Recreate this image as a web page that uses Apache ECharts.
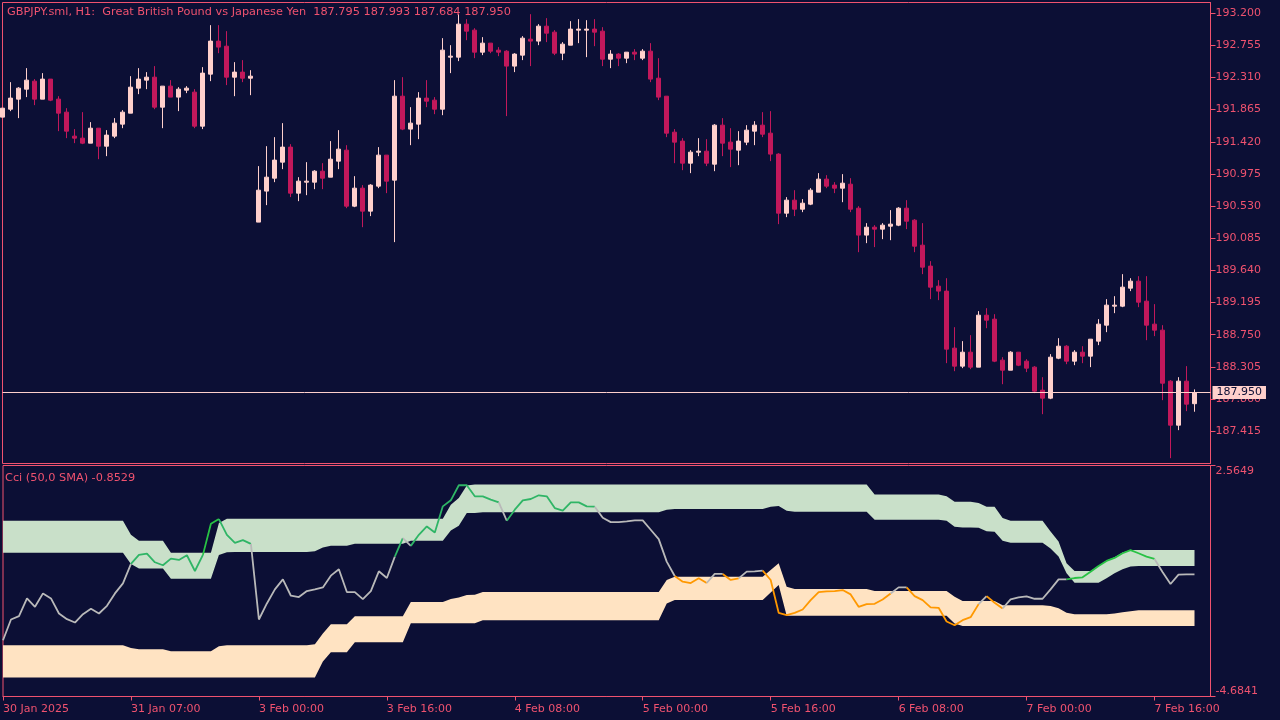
<!DOCTYPE html>
<html>
<head>
<meta charset="utf-8">
<title>GBPJPY H1 Cci</title>
<style>
  html, body { margin: 0; padding: 0; background: #0c0f35; }
  #chart { width: 1280px; height: 720px; }
</style>
<script src="https://cdn.jsdelivr.net/npm/echarts@6/dist/echarts.min.js"></script>
</head>
<body>
<div id="chart"></div>
<script>
const opens = [191.761,191.871,192.010,192.148,192.259,192.010,192.287,192.010,191.830,191.498,191.470,191.401,191.608,191.359,191.498,191.664,191.816,192.162,192.273,192.314,191.899,192.190,192.038,192.134,192.107,191.636,192.356,192.813,192.743,192.314,192.384,192.300,190.308,190.737,190.916,191.138,191.346,190.709,190.861,190.861,191.013,190.930,191.152,191.304,190.529,190.778,190.460,190.806,191.235,190.889,192.051,191.595,191.664,192.024,191.996,191.871,192.591,192.591,193.048,192.965,192.660,192.785,192.688,192.674,192.467,192.619,192.840,192.813,193.020,192.937,192.646,192.757,192.965,192.965,192.979,192.951,192.563,192.633,192.577,192.660,192.577,192.674,192.300,192.051,191.553,191.429,191.124,191.276,191.290,191.110,191.650,191.415,191.304,191.415,191.567,191.650,191.539,191.249,190.432,190.612,190.487,190.557,190.723,190.903,190.820,190.778,190.833,190.501,190.128,190.238,190.211,190.252,190.266,190.501,190.335,189.989,189.699,189.422,189.353,188.564,188.315,188.508,188.301,189.020,188.965,188.398,188.259,188.508,188.384,188.301,187.982,187.872,188.425,188.591,188.384,188.508,188.453,188.661,188.882,189.145,189.145,189.394,189.491,189.214,188.896,188.813,188.107,187.498,188.107,187.795];
const closes = [191.885,192.024,192.162,192.273,192.010,192.287,191.996,191.816,191.567,191.470,191.401,191.608,191.359,191.512,191.678,191.830,192.176,192.287,192.314,191.899,192.190,192.038,192.148,192.162,191.636,192.370,192.813,192.730,192.314,192.384,192.300,192.328,190.750,190.930,191.166,191.346,190.709,190.875,190.875,191.013,190.916,191.179,191.318,190.529,190.778,190.460,190.820,191.235,190.875,192.051,191.595,191.678,192.024,191.982,191.871,192.688,192.605,193.048,192.951,192.660,192.785,192.674,192.660,192.467,192.633,192.854,192.813,193.020,192.923,192.646,192.771,192.979,192.979,192.979,192.937,192.563,192.633,192.577,192.660,192.633,192.674,192.287,192.038,191.539,191.415,191.124,191.276,191.290,191.124,191.650,191.401,191.318,191.429,191.581,191.650,191.525,191.249,190.432,190.612,190.487,190.570,190.750,190.903,190.806,190.778,190.847,190.487,190.128,190.238,190.211,190.266,190.280,190.501,190.321,189.975,189.685,189.408,189.353,188.550,188.315,188.508,188.301,189.020,188.951,188.384,188.259,188.508,188.328,188.287,187.969,187.872,188.439,188.591,188.384,188.508,188.453,188.688,188.896,189.159,189.159,189.408,189.491,189.200,188.882,188.813,188.079,187.498,188.107,187.789,187.950];
const lows = [191.761,191.844,191.747,192.038,191.927,192.010,191.982,191.567,191.470,191.401,191.387,191.401,191.179,191.221,191.470,191.608,191.816,192.079,192.148,191.871,191.608,192.038,191.844,192.093,191.608,191.595,192.259,192.646,192.204,192.051,192.245,192.065,190.308,190.543,190.861,191.041,190.654,190.598,190.681,190.764,190.764,190.930,191.041,190.501,190.515,190.238,190.391,190.778,190.709,190.031,191.581,191.373,191.456,191.899,191.802,191.788,192.370,192.536,192.826,192.577,192.619,192.646,192.605,191.775,192.384,192.550,192.467,192.757,192.799,192.619,192.550,192.757,192.785,192.591,192.743,192.467,192.439,192.467,192.508,192.550,192.550,192.245,191.996,191.484,191.124,191.027,190.986,191.221,191.083,191.013,191.221,191.069,191.096,191.373,191.373,191.484,191.152,190.280,190.377,190.391,190.446,190.543,190.723,190.778,190.709,190.584,190.446,189.892,190.017,189.962,190.072,190.058,190.252,190.211,189.892,189.588,189.242,189.228,188.356,188.245,188.287,188.273,188.301,188.840,188.370,188.065,188.259,188.315,188.232,187.941,187.650,187.858,188.411,188.342,188.328,188.356,188.301,188.605,188.785,189.048,189.131,189.353,189.131,188.674,188.730,187.844,187.041,187.429,187.692,187.684];
const highs = [191.885,192.245,192.176,192.439,192.287,192.370,192.287,192.051,191.885,191.595,191.830,191.692,191.608,191.581,191.747,191.858,192.328,192.439,192.384,192.467,192.190,192.273,192.176,192.190,192.148,192.453,193.034,193.034,192.951,192.522,192.550,192.411,191.083,191.359,191.484,191.678,191.387,190.930,191.138,191.027,191.124,191.429,191.581,191.373,190.944,190.820,190.833,191.346,191.235,192.273,192.314,191.899,192.107,192.273,192.038,192.854,192.757,193.186,193.117,192.992,192.868,192.785,192.730,192.688,192.646,192.882,193.186,193.048,193.131,192.965,192.799,193.089,193.117,193.103,193.117,193.006,192.688,192.646,192.660,192.702,192.702,192.785,192.577,192.051,191.595,191.470,191.304,191.470,191.456,191.664,191.747,191.608,191.567,191.650,191.705,191.830,191.844,191.262,190.654,190.750,190.626,190.778,190.986,190.958,190.861,190.972,190.916,190.529,190.294,190.266,190.294,190.474,190.515,190.612,190.349,190.294,189.768,189.505,189.532,188.854,188.661,188.744,189.076,189.117,189.034,188.439,188.522,188.508,188.411,188.315,188.162,188.481,188.702,188.605,188.536,188.591,188.688,188.965,189.242,189.283,189.588,189.532,189.560,189.560,189.173,188.882,188.121,188.162,188.315,187.993];

const cci = [-2.920,-2.268,-2.163,-1.606,-1.869,-1.449,-1.606,-2.079,-2.258,-2.363,-2.100,-1.932,-2.079,-1.838,-1.449,-1.134,-0.524,-0.240,-0.198,-0.472,-0.566,-0.356,-0.398,-0.251,-0.745,-0.240,0.737,0.884,0.390,0.138,0.222,0.106,-2.268,-1.764,-1.323,-1.008,-1.522,-1.564,-1.375,-1.323,-1.260,-0.892,-0.692,-1.407,-1.407,-1.627,-1.375,-0.755,-0.966,-0.293,0.285,0.043,0.390,0.653,0.463,1.283,1.472,1.945,1.945,1.598,1.598,1.493,1.409,0.831,1.178,1.472,1.514,1.630,1.598,1.230,1.146,1.409,1.409,1.283,1.273,0.926,0.789,0.789,0.810,0.842,0.842,0.548,0.253,-0.451,-0.902,-1.081,-1.123,-0.976,-1.123,-0.839,-0.839,-1.028,-0.976,-0.766,-0.755,-0.734,-1.028,-2.058,-2.132,-2.058,-1.953,-1.659,-1.407,-1.386,-1.375,-1.344,-1.480,-1.869,-1.785,-1.775,-1.638,-1.449,-1.260,-1.260,-1.533,-1.659,-1.890,-1.901,-2.331,-2.447,-2.289,-2.195,-1.785,-1.533,-1.743,-1.922,-1.638,-1.575,-1.543,-1.617,-1.617,-1.323,-1.008,-1.008,-0.966,-0.945,-0.766,-0.587,-0.430,-0.335,-0.188,-0.093,-0.188,-0.293,-0.367,-0.776,-1.155,-0.860,-0.850,-0.853];
const greenTop = [0.831,0.831,0.831,0.831,0.831,0.831,0.831,0.831,0.831,0.831,0.831,0.831,0.831,0.831,0.831,0.831,0.39,0.201,0.201,0.201,0.201,-0.177,-0.177,-0.177,-0.177,-0.177,-0.177,0.758,0.894,0.894,0.894,0.894,0.894,0.894,0.894,0.894,0.894,0.894,0.894,0.894,0.894,0.894,0.894,0.894,0.894,0.894,0.894,0.894,0.894,0.894,0.894,0.894,0.894,0.894,0.894,0.894,1.336,1.546,1.934,1.966,1.966,1.966,1.966,1.966,1.966,1.966,1.966,1.966,1.966,1.966,1.966,1.966,1.966,1.966,1.966,1.966,1.966,1.966,1.966,1.966,1.966,1.966,1.966,1.966,1.966,1.966,1.966,1.966,1.966,1.966,1.966,1.966,1.966,1.966,1.966,1.966,1.966,1.966,1.966,1.966,1.966,1.966,1.966,1.966,1.966,1.966,1.966,1.966,1.966,1.651,1.651,1.651,1.651,1.651,1.651,1.651,1.651,1.651,1.598,1.43,1.43,1.43,1.388,1.273,1.273,0.915,0.831,0.831,0.831,0.831,0.831,0.495,0.18,-0.503,-0.745,-0.745,-0.745,-0.587,-0.419,-0.314,-0.167,-0.083,-0.083,-0.083,-0.083,-0.083,-0.083,-0.083,-0.083,-0.083];
const greenBottom = [-0.177,-0.177,-0.177,-0.177,-0.177,-0.177,-0.177,-0.177,-0.177,-0.177,-0.177,-0.177,-0.177,-0.177,-0.177,-0.177,-0.524,-0.671,-0.671,-0.671,-0.671,-0.987,-0.987,-0.987,-0.987,-0.987,-0.987,-0.24,-0.156,-0.146,-0.146,-0.146,-0.146,-0.146,-0.146,-0.146,-0.146,-0.146,-0.146,-0.125,-0.009,0.043,0.043,0.043,0.106,0.106,0.106,0.106,0.106,0.106,0.106,0.201,0.201,0.201,0.201,0.201,0.527,0.674,1.073,1.073,1.094,1.094,1.094,1.094,1.094,1.094,1.094,1.094,1.094,1.094,1.094,1.094,1.094,1.094,1.094,1.094,1.094,1.094,1.094,1.094,1.094,1.094,1.094,1.178,1.199,1.199,1.199,1.199,1.199,1.199,1.199,1.199,1.199,1.199,1.199,1.199,1.273,1.294,1.146,1.115,1.115,1.115,1.115,1.115,1.115,1.115,1.115,1.115,1.115,0.863,0.863,0.863,0.863,0.863,0.863,0.863,0.863,0.863,0.831,0.642,0.621,0.621,0.611,0.505,0.484,0.201,0.138,0.138,0.138,0.138,0.138,-0.041,-0.293,-0.818,-1.113,-1.113,-1.113,-1.113,-0.976,-0.818,-0.692,-0.608,-0.587,-0.587,-0.587,-0.587,-0.587,-0.587,-0.587,-0.587];
const peachTop = [-3.077,-3.077,-3.077,-3.077,-3.077,-3.077,-3.077,-3.077,-3.077,-3.077,-3.077,-3.077,-3.077,-3.077,-3.077,-3.077,-3.161,-3.203,-3.203,-3.203,-3.203,-3.267,-3.267,-3.267,-3.267,-3.267,-3.267,-3.109,-3.077,-3.077,-3.077,-3.077,-3.077,-3.077,-3.077,-3.077,-3.077,-3.077,-3.077,-3.046,-2.71,-2.415,-2.415,-2.415,-2.163,-2.163,-2.163,-2.163,-2.163,-2.163,-2.163,-1.722,-1.722,-1.722,-1.722,-1.722,-1.627,-1.575,-1.501,-1.491,-1.407,-1.407,-1.407,-1.407,-1.407,-1.407,-1.407,-1.407,-1.407,-1.407,-1.407,-1.407,-1.407,-1.407,-1.407,-1.407,-1.407,-1.407,-1.407,-1.407,-1.407,-1.407,-1.407,-1.029,-0.923,-0.923,-0.923,-0.923,-0.923,-0.923,-0.923,-0.923,-0.923,-0.923,-0.923,-0.923,-0.713,-0.503,-1.239,-1.312,-1.312,-1.312,-1.312,-1.312,-1.312,-1.312,-1.312,-1.312,-1.312,-1.375,-1.375,-1.375,-1.375,-1.375,-1.375,-1.375,-1.375,-1.375,-1.375,-1.554,-1.69,-1.69,-1.69,-1.69,-1.69,-1.817,-1.817,-1.817,-1.817,-1.817,-1.817,-1.848,-1.911,-2.058,-2.1,-2.1,-2.1,-2.1,-2.1,-2.079,-2.037,-2.006,-1.974,-1.974,-1.974,-1.974,-1.974,-1.974,-1.974,-1.974];
const peachBottom = [-4.086,-4.086,-4.086,-4.086,-4.086,-4.086,-4.086,-4.086,-4.086,-4.086,-4.086,-4.086,-4.086,-4.086,-4.086,-4.086,-4.086,-4.086,-4.086,-4.086,-4.086,-4.086,-4.086,-4.086,-4.086,-4.086,-4.086,-4.086,-4.086,-4.086,-4.086,-4.086,-4.086,-4.086,-4.086,-4.086,-4.086,-4.086,-4.086,-4.086,-3.582,-3.298,-3.298,-3.298,-2.983,-2.983,-2.983,-2.983,-2.983,-2.983,-2.983,-2.384,-2.384,-2.384,-2.384,-2.384,-2.384,-2.384,-2.384,-2.384,-2.289,-2.289,-2.289,-2.289,-2.289,-2.289,-2.289,-2.289,-2.289,-2.289,-2.289,-2.289,-2.289,-2.289,-2.289,-2.289,-2.289,-2.289,-2.289,-2.289,-2.289,-2.289,-2.289,-1.764,-1.659,-1.659,-1.659,-1.659,-1.659,-1.659,-1.659,-1.659,-1.659,-1.659,-1.659,-1.659,-1.417,-1.186,-2.153,-2.153,-2.153,-2.153,-2.153,-2.153,-2.153,-2.153,-2.153,-2.153,-2.153,-2.153,-2.153,-2.153,-2.153,-2.153,-2.153,-2.153,-2.153,-2.153,-2.153,-2.394,-2.468,-2.468,-2.468,-2.468,-2.468,-2.468,-2.468,-2.468,-2.468,-2.468,-2.468,-2.468,-2.468,-2.468,-2.468,-2.468,-2.468,-2.468,-2.468,-2.468,-2.468,-2.468,-2.468,-2.468,-2.468,-2.468,-2.468,-2.468,-2.468,-2.468];

// the cci line changes colour by zone, each entry runs up to that bar
const zoneEnds = [16,25,27,31,49,50,51,62,63,74,84,88,90,92,95,111,113,122,123,125,133,144,149];
const zoneNames = ["grey","green","lime","green","grey","green","grey","green","grey","green","grey","orange","grey","orange","grey","orange","grey","orange","grey","orange","grey","lime","grey"];

const xTickLabels = ["30 Jan 2025","31 Jan 07:00","3 Feb 00:00","3 Feb 16:00","4 Feb 08:00","5 Feb 00:00","5 Feb 16:00","6 Feb 08:00","7 Feb 00:00","7 Feb 16:00"];
const priceTicks = [187.415,187.86,188.305,188.75,189.195,189.64,190.085,190.53,190.975,191.42,191.865,192.31,192.755,193.2];
const cciTicks = [-4.6841,2.5649];
const lastPrice = 187.95;

const BG = "#0c0f35";
const AXIS = "#f0526f";
const UP = "#ffd0cc";
const DOWN = "#c2185b";
const ZONE_COLORS = { grey: "#b9b9b9", green: "#2fb566", lime: "#28c244", orange: "#ff9800" };
const FONT = "DejaVu Sans";

// two empty slots after the last bar, the chart leaves room on the right
const categories = [];
for (let i = 0; i < 152; i++) {
  categories.push(i % 16 === 0 ? xTickLabels[i / 16] : "");
}

function bandSeries(top, bottom, color) {
  return {
    type: "custom",
    xAxisIndex: 1,
    yAxisIndex: 1,
    silent: true,
    z: 1,
    clip: true,
    encode: { x: 0, y: [1, 2] },
    data: top.map((t, i) => [i, t, bottom[i]]),
    renderItem: (params, api) => {
      if (params.dataIndex !== 0) {
        return null;
      }
      const points = [];
      top.forEach((t, i) => points.push(api.coord([i, t])));
      for (let i = bottom.length - 1; i >= 0; i--) {
        points.push(api.coord([i, bottom[i]]));
      }
      return { type: "polygon", shape: { points }, style: { fill: color } };
    },
  };
}

const zoneSeries = zoneEnds.map((end, z) => {
  const start = z === 0 ? 0 : zoneEnds[z - 1];
  return {
    type: "line",
    xAxisIndex: 1,
    yAxisIndex: 1,
    silent: true,
    z: 3,
    symbol: "none",
    connectNulls: false,
    lineStyle: { color: ZONE_COLORS[zoneNames[z]], width: 1.8 },
    data: cci.map((v, i) => (i >= start && i <= end ? v : null)),
  };
});

const chart = echarts.init(document.getElementById("chart"));
chart.setOption({
  backgroundColor: BG,
  animation: false,
  textStyle: { fontFamily: FONT },
  title: [
    {
      text: "GBPJPY.sml, H1:  Great British Pound vs Japanese Yen  187.795 187.993 187.684 187.950",
      left: 7,
      top: 7,
      padding: 0,
      textStyle: { color: AXIS, fontSize: 11.3, fontWeight: "normal", fontFamily: FONT },
    },
    {
      text: "Cci (50,0 SMA) -0.8529",
      left: 5,
      top: 473,
      padding: 0,
      textStyle: { color: AXIS, fontSize: 11.3, fontWeight: "normal", fontFamily: FONT },
    },
  ],
  grid: [
    { left: 2.5, top: 2.5, width: 1208, height: 461, show: true, borderColor: AXIS, borderWidth: 1, backgroundColor: "transparent" },
    { left: 2.5, top: 465.5, width: 1208, height: 231, show: true, borderColor: AXIS, borderWidth: 1, backgroundColor: "transparent" },
  ],
  xAxis: [
    {
      type: "category",
      gridIndex: 0,
      data: categories,
      boundaryGap: false,
      axisLine: { show: false },
      axisTick: { show: false },
      axisLabel: { show: false },
      splitLine: { show: false },
    },
    {
      type: "category",
      gridIndex: 1,
      data: categories,
      boundaryGap: false,
      axisLine: { onZero: false, lineStyle: { color: AXIS } },
      axisTick: { interval: 15, length: 4, lineStyle: { color: AXIS } },
      axisLabel: { interval: 15, color: AXIS, fontSize: 11, align: "left", margin: 7, fontFamily: FONT },
      splitLine: { show: false },
    },
  ],
  yAxis: [
    {
      type: "value",
      gridIndex: 0,
      position: "right",
      min: 186.9674,
      max: 193.3474,
      axisLine: { show: true, lineStyle: { color: AXIS } },
      axisTick: { show: true, length: 5, customValues: priceTicks, lineStyle: { color: AXIS } },
      axisLabel: {
        color: AXIS,
        fontSize: 11,
        margin: 5,
        fontFamily: FONT,
        padding: [3, 0, 0, 0],
        customValues: priceTicks,
        formatter: (v) => v.toFixed(3),
      },
      splitLine: { show: false },
    },
    {
      type: "value",
      gridIndex: 1,
      position: "right",
      min: -4.6841,
      max: 2.5649,
      axisLine: { show: true, lineStyle: { color: AXIS } },
      axisTick: { show: true, length: 5, customValues: cciTicks, lineStyle: { color: AXIS } },
      axisLabel: {
        color: AXIS,
        fontSize: 11,
        margin: 5,
        fontFamily: FONT,
        customValues: cciTicks,
        verticalAlignMinLabel: "bottom",
        verticalAlignMaxLabel: "top",
        formatter: (v) => v.toFixed(4),
      },
      splitLine: { show: false },
    },
  ],
  series: [
    {
      type: "candlestick",
      xAxisIndex: 0,
      yAxisIndex: 0,
      barWidth: 4,
      silent: true,
      itemStyle: { color: UP, color0: DOWN, borderColor: UP, borderColor0: DOWN, borderWidth: 1 },
      data: opens.map((o, i) => [o, closes[i], lows[i], highs[i]]),
      markLine: {
        silent: true,
        symbol: "none",
        animation: false,
        lineStyle: { color: UP, type: "solid", width: 1 },
        label: {
          position: "end",
          distance: 2,
          formatter: lastPrice.toFixed(3),
          color: BG,
          fontSize: 11,
          fontFamily: FONT,
          backgroundColor: UP,
          padding: [1, 4, 1, 4],
        },
        data: [{ yAxis: lastPrice }],
      },
    },
    bandSeries(greenTop, greenBottom, "#c9e0c9"),
    bandSeries(peachTop, peachBottom, "#ffe3c2"),
    ...zoneSeries,
  ],
});
</script>
</body>
</html>
